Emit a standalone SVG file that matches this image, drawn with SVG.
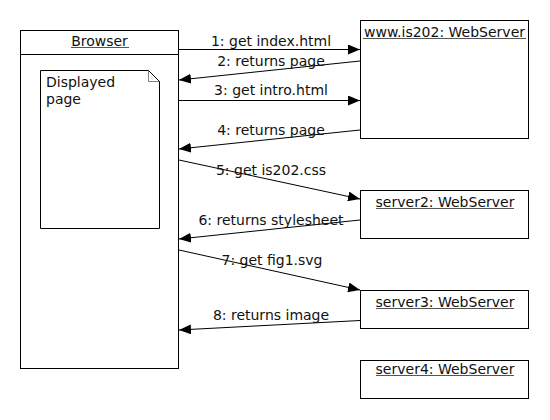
<svg xmlns="http://www.w3.org/2000/svg" width="550" height="420" viewBox="0 0 550 420">
<style>
.box{fill:#fff;stroke:#000;stroke-width:1}
.t{font-family:"DejaVu Sans",sans-serif;font-size:14px;fill:#111}
.ul{stroke:#555;stroke-width:1}
.c{stroke:#000;stroke-width:1;fill:none;marker-end:url(#ah)}
</style>
<defs>
<marker id="ah" viewBox="0 0 12 10" refX="12" refY="5" markerWidth="12" markerHeight="10" markerUnits="userSpaceOnUse" orient="auto">
<path d="M0,0 L12,5 L0,10 Z" fill="#000"/>
</marker>
</defs>
<rect width="550" height="420" fill="#fff"/>
<g id="browser">
<rect class="box" x="20.5" y="30.5" width="158" height="338"/>
<line x1="20.5" y1="54.5" x2="178.5" y2="54.5" stroke="#000"/>
<text class="t" x="99.5" y="46" text-anchor="middle">Browser</text>
<line class="ul" x1="71" y1="47.5" x2="129" y2="47.5"/>
</g>
<g id="page">
<path class="box" d="M40.5,70.5 H148.5 L159.5,81.5 V228.5 H40.5 Z"/>
<path d="M148.5,70.5 V81.5 H159.5" fill="none" stroke="#000" stroke-width="0.5"/>
<text class="t" x="46" y="87">Displayed</text>
<text class="t" x="46" y="104">page</text>
</g>
<g id="www">
<rect class="box" x="360.5" y="20.5" width="168" height="118"/>
<text class="t" x="444.5" y="37" text-anchor="middle">www.is202: WebServer</text>
<line class="ul" x1="363" y1="38.5" x2="526" y2="38.5"/>
</g>
<g id="server2">
<rect class="box" x="360.5" y="190.5" width="168" height="48"/>
<text class="t" x="445" y="207" text-anchor="middle">server2: WebServer</text>
<line class="ul" x1="376" y1="208.5" x2="514" y2="208.5"/>
</g>
<g id="server3">
<rect class="box" x="360.5" y="290.5" width="168" height="38"/>
<text class="t" x="445" y="307" text-anchor="middle">server3: WebServer</text>
<line class="ul" x1="376" y1="308.5" x2="514" y2="308.5"/>
</g>
<g id="server4">
<rect class="box" x="360.5" y="360.5" width="168" height="38"/>
<text class="t" x="445" y="374" text-anchor="middle">server4: WebServer</text>
<line class="ul" x1="376" y1="375.5" x2="514" y2="375.5"/>
</g>
<g id="connectors">
<line class="c" x1="179" y1="49.5" x2="360" y2="49.5"/>
<line class="c" x1="360" y1="61" x2="179" y2="80"/>
<line class="c" x1="179" y1="100.5" x2="360" y2="100.5"/>
<line class="c" x1="360" y1="130" x2="179" y2="149"/>
<line class="c" x1="179" y1="160" x2="360" y2="199"/>
<line class="c" x1="360" y1="220" x2="179" y2="239"/>
<line class="c" x1="179" y1="250" x2="360" y2="290"/>
<line class="c" x1="360" y1="320.5" x2="179" y2="330"/>
<text class="t" x="271" y="46" text-anchor="middle">1: get index.html</text>
<text class="t" x="271" y="66" text-anchor="middle">2: returns page</text>
<text class="t" x="271" y="95" text-anchor="middle">3: get intro.html</text>
<text class="t" x="271" y="135" text-anchor="middle">4: returns page</text>
<text class="t" x="271" y="175" text-anchor="middle">5: get is202.css</text>
<text class="t" x="271" y="225" text-anchor="middle">6: returns stylesheet</text>
<text class="t" x="272" y="265" text-anchor="middle">7: get fig1.svg</text>
<text class="t" x="271" y="320" text-anchor="middle">8: returns image</text>
</g>
</svg>
